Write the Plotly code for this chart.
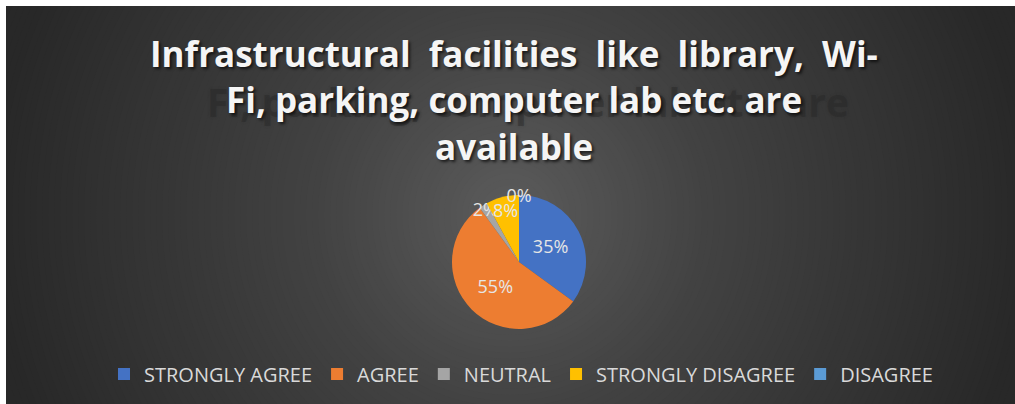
import plotly.graph_objects as go

# ---- data ----
categories = ["STRONGLY AGREE", "AGREE", "NEUTRAL", "STRONGLY DISAGREE", "DISAGREE"]
values = [35, 55, 2, 8, 0]
colors = ["#4472C4", "#ED7D31", "#A5A5A5", "#FFC000", "#5B9BD5"]
title_lines = [
    "Infrastructural\u00a0 facilities\u00a0 like\u00a0 library,\u00a0 Wi-",
    "Fi, parking, computer lab etc. are",
    "available",
]

W, H = 1015, 404

fig = go.Figure()
fig.add_trace(go.Pie(
    labels=categories,
    values=values,
    marker=dict(colors=colors, line=dict(width=0)),
    sort=False,
    direction="clockwise",
    rotation=0,
    textinfo="percent",
    textposition="inside",
    insidetextorientation="horizontal",
    textfont=dict(family="Open Sans", size=18, color="#e6e6e6"),
    domain=dict(x=[(519 - 67) / W, (519 + 67) / W], y=[(H - 262 - 67) / H, (H - 262 + 67) / H]),
    hoverinfo="label+percent",
))

# radial gradient background built from concentric circles
def shade(r):
    pts = [(0, 92), (200, 66), (520, 40), (700, 36)]
    for (r0, v0), (r1, v1) in zip(pts, pts[1:]):
        if r <= r1:
            return v0 + (v1 - v0) * (r - r0) / (r1 - r0)
    return pts[-1][1]

cx, cy = 510, 215
shapes = []
r = 600
while r > 0:
    v = int(round(shade(r)))
    shapes.append(dict(type="circle", xref="paper", yref="paper", layer="below",
                       x0=(cx - r) / W, x1=(cx + r) / W,
                       y0=(H - cy - r) / H, y1=(H - cy + r) / H,
                       fillcolor=f"rgb({v},{v},{v})", line=dict(width=0)))
    r -= 6
# white frame on top and left
shapes.append(dict(type="rect", xref="paper", yref="paper", layer="below",
                   x0=-0.01, x1=1.01, y0=(H - 6) / H, y1=1.01, fillcolor="white", line=dict(width=0)))
shapes.append(dict(type="rect", xref="paper", yref="paper", layer="below",
                   x0=-0.01, x1=6 / W, y0=-0.01, y1=1.01, fillcolor="white", line=dict(width=0)))

annotations = [
    # faint ghost reflection behind the second title line
    dict(text=title_lines[1], x=528 / W, y=(H - 101) / H, xref="paper", yref="paper",
         showarrow=False, xanchor="center", yanchor="middle",
         font=dict(family="Open Sans", size=39, color="rgba(40,40,40,0.45)", weight="bold",
                   shadow="0px 0px 3px rgba(40,40,40,0.5)")),
]
for i, line in enumerate(title_lines):
    annotations.append(dict(
        text=line, x=514 / W, y=(H - (53 + 46.5 * i)) / H, xref="paper", yref="paper",
        showarrow=False, xanchor="center", yanchor="middle",
        font=dict(family="Open Sans", size=35, color="#f5f5f5", weight="bold",
                  shadow="2px 2px 3px rgba(0,0,0,0.65)"),
    ))

fig.update_layout(
    width=W, height=H,
    margin=dict(l=0, r=0, t=0, b=0),
    paper_bgcolor="#262626",
    plot_bgcolor="#262626",
    shapes=shapes,
    annotations=annotations,
    showlegend=True,
    uniformtext=dict(minsize=18, mode="show"),
    legend=dict(orientation="h", x=521 / W, xanchor="center", y=(H - 374) / H, yanchor="middle",
                font=dict(family="Open Sans", size=20, color="#d9d9d9"),
                bgcolor="rgba(0,0,0,0)", traceorder="normal", itemclick=False),
)

fig.write_html("out.html",
               config={"displayModeBar": False},
               post_script="document.body.style.margin='0';document.body.style.overflow='hidden';")
